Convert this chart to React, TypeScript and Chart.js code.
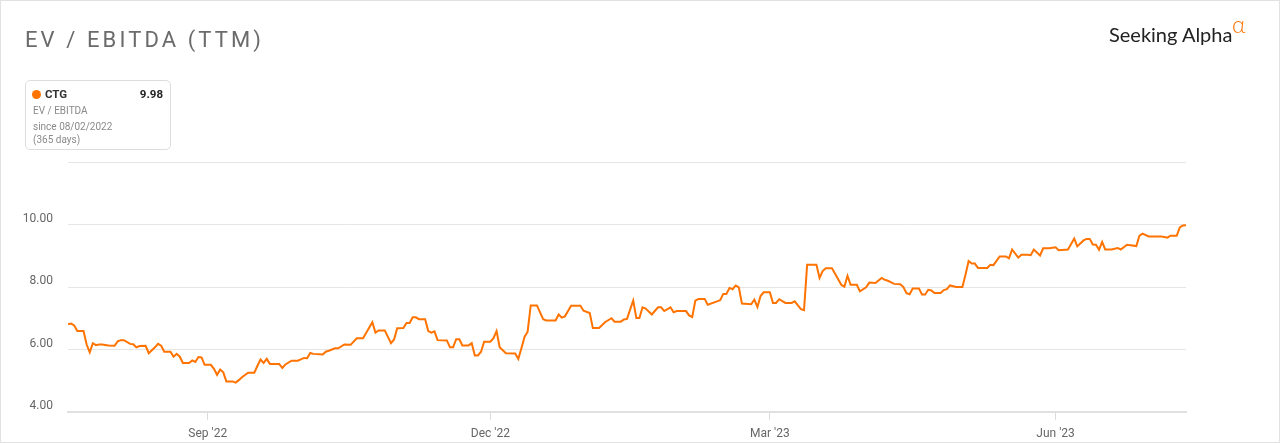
import React, { useEffect, useRef } from "react";
import { Chart, registerables } from "chart.js";

Chart.register(...registerables);

// Day offsets (from ~18 Jul 2022) of the points
const days = [
  0, 1, 2, 3, 5, 6, 7, 8, 9, 10, 11, 13, 15, 16, 17, 18, 20, 21, 22, 23,
  25, 26, 28, 29, 30, 31, 33, 34, 35, 36, 37, 39, 40, 41, 42, 43, 44, 46, 47, 48,
  49, 50, 51, 53, 54, 55, 56, 58, 60, 61, 62, 63, 64, 65, 68, 69, 70, 72, 74, 76,
  77, 78, 79, 82, 83, 84, 86, 87,
  89, 91, 93, 95, 98, 99, 100, 102, 104, 105, 106, 108, 109, 110, 111, 112, 113, 115, 116, 117,
  118, 119, 122, 123, 124, 125, 126, 127, 129, 130, 131, 132, 133, 134, 136, 137, 138, 139, 141, 144,
  145, 146, 147, 148, 149, 151, 153, 154, 157, 158, 159, 160, 162, 165, 166, 168, 169, 171, 173,
  175, 176, 178, 179, 180, 182, 183, 184, 185, 186, 188, 190, 191, 192, 194, 195, 196, 199, 200, 201,
  202, 203, 205, 206, 209, 210, 211, 212, 213, 214, 215, 216, 217, 220, 221, 222, 223, 224, 226, 227,
  228, 229, 231, 233, 234, 236, 237, 238, 241, 242, 243, 244, 246, 249, 250, 251, 252, 254, 255, 257,
  258, 260, 262, 263, 264, 266,
  268, 269, 270, 271, 272, 274, 275, 276, 277, 278, 279, 281, 282, 283, 284, 286, 288, 289, 290, 291,
  292, 293, 296, 297, 298, 300, 302, 303, 304, 306, 307, 309, 310, 311, 313, 314, 316, 318, 319, 322,
  324, 325, 327, 328, 329, 330, 331, 332, 333, 334, 336, 338, 339, 341, 344, 345, 346, 348, 352, 353,
  354, 355, 357, 358, 359, 360,
];

// EV / EBITDA values for CTG
const evEbitda = [
  6.81, 6.83, 6.77, 6.59, 6.59, 6.16, 5.91, 6.2, 6.14, 6.16, 6.16, 6.13, 6.12, 6.26, 6.3, 6.3, 6.18, 6.17, 6.07, 6.11,
  6.12, 5.88, 6.07, 6.18, 6.12, 5.93, 5.93, 5.77, 5.86, 5.77, 5.57, 5.57, 5.65, 5.6, 5.76, 5.75, 5.51, 5.51, 5.38, 5.19,
  5.36, 5.27, 4.98, 4.98, 4.94, 5.02, 5.11, 5.26, 5.26, 5.48, 5.68, 5.57, 5.7, 5.54, 5.54, 5.41, 5.52, 5.64, 5.64, 5.73,
  5.72, 5.89, 5.86, 5.84, 5.93, 5.96, 6.04, 6.04,
  6.16, 6.15, 6.36, 6.36, 6.87, 6.54, 6.61, 6.61, 6.2, 6.32, 6.68, 6.69, 6.85, 6.85, 7.03, 7.03, 6.97, 6.97, 6.59, 6.54,
  6.58, 6.3, 6.29, 6.07, 6.07, 6.33, 6.33, 6.13, 6.13, 6.2, 5.81, 5.81, 5.93, 6.25, 6.25, 6.36, 6.59, 6.07, 5.88, 5.87,
  5.7, 6.04, 6.4, 6.57, 7.41, 7.41, 6.97, 6.93, 6.93, 7.12, 7.02, 7.06, 7.4, 7.4, 7.24, 7.17, 6.69, 6.69, 6.88,
  7.0, 6.89, 6.89, 6.96, 6.98, 7.57, 7.01, 7.01, 7.35, 7.31, 7.12, 7.35, 7.35, 7.23, 7.35, 7.19, 7.23, 7.23, 7.09, 7.04,
  7.56, 7.62, 7.62, 7.43, 7.54, 7.58, 7.78, 7.78, 7.97, 7.93, 8.05, 7.99, 7.47, 7.45, 7.6, 7.36, 7.71, 7.83, 7.83, 7.49,
  7.49, 7.61, 7.49, 7.49, 7.54, 7.29, 7.26, 8.71, 8.71, 8.29, 8.51, 8.6, 8.6, 8.07, 8.01, 8.36, 8.07, 8.07, 7.86, 7.99,
  8.14, 8.13, 8.29, 8.23, 8.2, 8.1,
  8.09, 8.0, 7.8, 7.77, 7.95, 7.95, 7.76, 7.76, 7.91, 7.89, 7.81, 7.81, 7.9, 7.93, 8.05, 8.0, 8.0, 8.39, 8.83, 8.75,
  8.75, 8.61, 8.61, 8.71, 8.7, 8.98, 8.98, 8.92, 9.2, 8.94, 9.03, 9.03, 9.02, 9.2, 9.01, 9.24, 9.24, 9.27, 9.18, 9.2,
  9.55, 9.3, 9.49, 9.54, 9.54, 9.36, 9.35, 9.19, 9.44, 9.2, 9.2, 9.25, 9.2, 9.35, 9.31, 9.64, 9.71, 9.62, 9.62, 9.6,
  9.58, 9.64, 9.64, 9.91, 9.97, 9.98,
];

const xTickDays = [45, 136, 226, 318];
const xTickLabels = ["Sep '22", "Dec '22", "Mar '23", "Jun '23"];
const yTickValues = [4, 6, 8, 10, 12];
const yMin = 4;
const yMax = 12;
const xMax = 360;

const chartTitle = "EV / EBITDA (TTM)";
const seriesName = "CTG";
const lastValueLabel = "9.98";
const metricLabel = "EV / EBITDA";
const sinceLabel = "since 08/02/2022";
const spanLabel = "(365 days)";
const brandName = "Seeking Alpha";
const brandMark = "α";

const ORANGE = "#ff7300";

export default function App() {
  const canvasRef = useRef<HTMLCanvasElement | null>(null);

  useEffect(() => {
    if (!canvasRef.current) return;
    Chart.defaults.font.family = "Roboto, 'Noto Sans', sans-serif";
    const chart = new Chart(canvasRef.current, {
      type: "line",
      data: {
        datasets: [
          {
            label: seriesName,
            data: days.map((d, i) => ({ x: d, y: evEbitda[i] })),
            borderColor: ORANGE,
            borderWidth: 2,
            pointRadius: 0,
            tension: 0,
            fill: false,
          },
        ],
      },
      options: {
        responsive: false,
        animation: false,
        layout: { padding: { left: 8, right: 94, top: 162, bottom: 0 } },
        plugins: { legend: { display: false }, tooltip: { enabled: false } },
        scales: {
          x: {
            type: "linear",
            min: 0,
            max: xMax,
            afterBuildTicks: (s: any) => {
              s.ticks = xTickDays.map((v) => ({ value: v }));
            },
            afterFit: (s: any) => {
              s.height = 31;
            },
            grid: {
              drawOnChartArea: false,
              drawTicks: true,
              tickLength: 8,
              color: "#dcdcdc",
            },
            border: { display: true, color: "#e0e0e0", width: 2 },
            ticks: {
              autoSkip: false,
              maxRotation: 0,
              padding: 7,
              color: "#666666",
              font: { size: 12 },
              callback: (_v: any, i: number) => xTickLabels[i],
            },
          },
          y: {
            min: yMin,
            max: yMax,
            afterBuildTicks: (s: any) => {
              s.ticks = yTickValues.map((v) => ({ value: v }));
            },
            afterFit: (s: any) => {
              s.width = 60;
            },
            grid: { drawTicks: false, color: "#e6e6e6", lineWidth: 1 },
            border: { display: false },
            ticks: {
              padding: 15,
              labelOffset: -6,
              color: "#666666",
              font: { size: 12 },
              callback: (v: any) => (Number(v) === yMax ? "" : Number(v).toFixed(2)),
            },
          },
        },
      },
    } as any);
    return () => chart.destroy();
  }, []);

  const font = "Roboto, 'Noto Sans', sans-serif";

  return (
    <div
      style={{
        position: "absolute",
        left: 0,
        top: 0,
        width: 1280,
        height: 443,
        background: "#ffffff",
        overflow: "hidden",
        fontFamily: font,
      }}
    >
      <canvas
        ref={canvasRef}
        width={1280}
        height={443}
        style={{ position: "absolute", left: 0, top: 0, width: 1280, height: 443 }}
      />
      <div
        style={{
          position: "absolute",
          left: 0,
          top: 0,
          width: 1280,
          height: 443,
          boxSizing: "border-box",
          border: "1px solid #e2e2e2",
          pointerEvents: "none",
        }}
      />
      <div
        style={{
          position: "absolute",
          left: 25,
          top: 29,
          fontSize: 22,
          lineHeight: "22px",
          letterSpacing: 3.1,
          color: "#6b6b6b",
          whiteSpace: "nowrap",
        }}
      >
        {chartTitle}
      </div>
      <div
        style={{
          position: "absolute",
          left: 25,
          top: 80,
          width: 146,
          height: 70,
          boxSizing: "border-box",
          border: "1px solid #dddddd",
          borderRadius: 5,
          background: "#ffffff",
        }}
      >
        <div
          style={{
            position: "absolute",
            left: 6,
            top: 8.5,
            width: 9,
            height: 9,
            borderRadius: "50%",
            background: ORANGE,
          }}
        />
        <div
          style={{
            position: "absolute",
            left: 19,
            top: 6,
            fontSize: 11.5,
            lineHeight: "14px",
            fontWeight: 700,
            color: "#333333",
          }}
        >
          {seriesName}
        </div>
        <div
          style={{
            position: "absolute",
            right: 7,
            top: 6,
            fontSize: 11.5,
            lineHeight: "14px",
            fontWeight: 700,
            color: "#222222",
          }}
        >
          {lastValueLabel}
        </div>
        <div
          style={{
            position: "absolute",
            left: 7,
            top: 22.5,
            fontSize: 10,
            lineHeight: "13px",
            color: "#8a8a8a",
            whiteSpace: "nowrap",
          }}
        >
          <div>{metricLabel}</div>
          <div style={{ marginTop: 3 }}>{sinceLabel}</div>
          <div>{spanLabel}</div>
        </div>
      </div>
      <div
        style={{
          position: "absolute",
          left: 1109,
          top: 20,
          fontFamily: "Lato, 'Open Sans', sans-serif",
          fontSize: 20,
          lineHeight: "28px",
          color: "#222222",
          whiteSpace: "nowrap",
        }}
      >
        {brandName}
        <span
          style={{
            position: "absolute",
            left: 123,
            top: -10,
            fontSize: 23,
            color: ORANGE,
            fontWeight: 300,
          }}
        >
          {brandMark}
        </span>
      </div>
    </div>
  );
}
